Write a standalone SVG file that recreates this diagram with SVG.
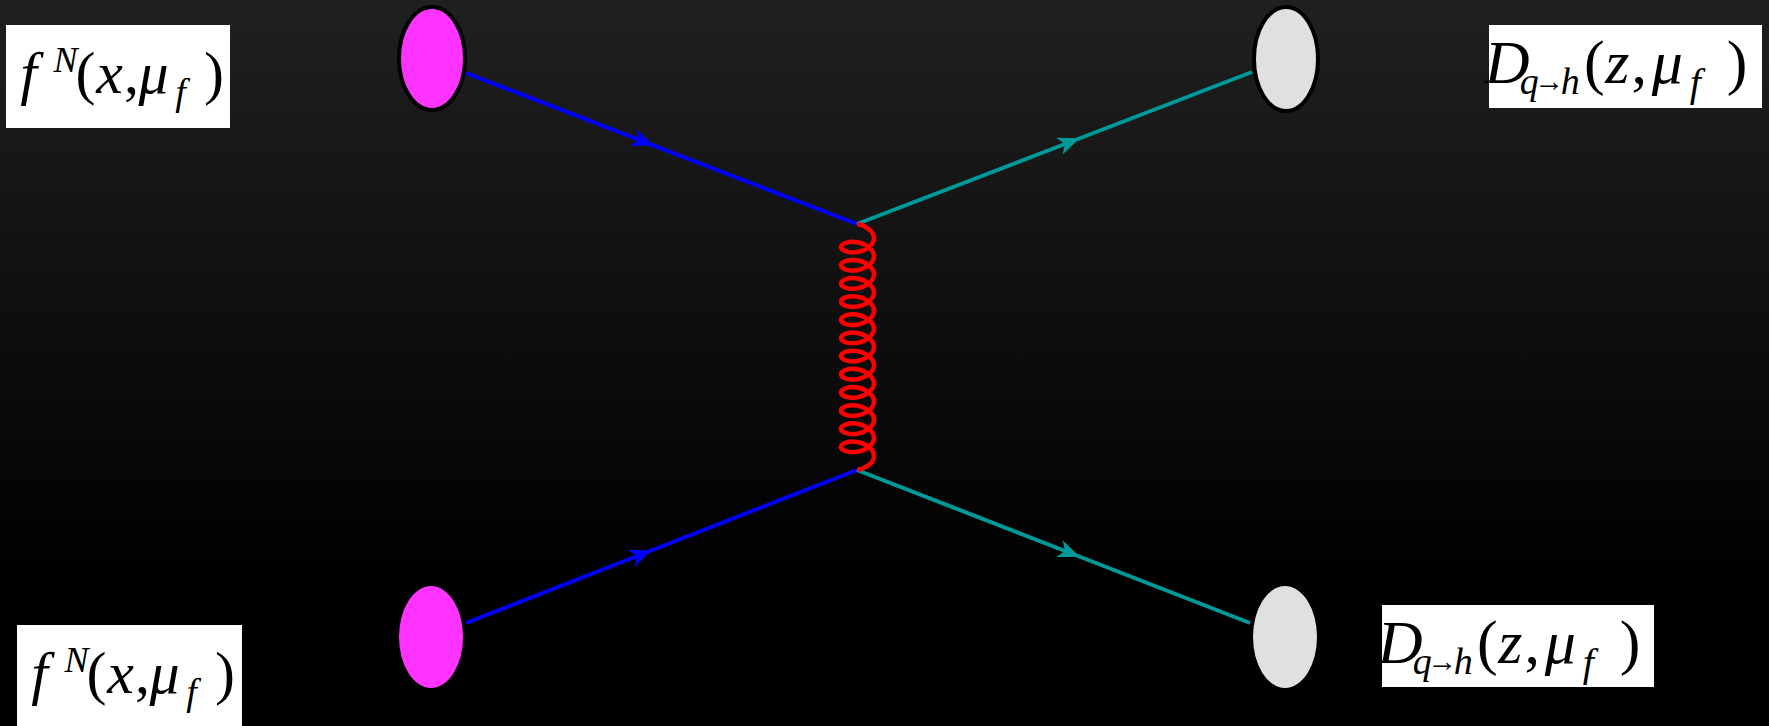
<svg xmlns="http://www.w3.org/2000/svg" width="1769" height="726" viewBox="0 0 1769 726">
  <defs>
    <linearGradient id="bg" x1="0" y1="0" x2="0" y2="1">
      <stop offset="0" stop-color="#202020"/>
      <stop offset="0.8" stop-color="#000000"/>
      <stop offset="1" stop-color="#000000"/>
    </linearGradient>
    <marker id="arrBlue" markerUnits="userSpaceOnUse" viewBox="-24 -12 28 24" markerWidth="28" markerHeight="24" refX="0" refY="0" orient="auto">
      <path d="M2 0 L-20 -9 L-14 0 L-20 9 Z" fill="#0000ff"/>
    </marker>
    <marker id="arrTeal" markerUnits="userSpaceOnUse" viewBox="-24 -12 28 24" markerWidth="28" markerHeight="24" refX="0" refY="0" orient="auto">
      <path d="M2 0 L-20 -9 L-14 0 L-20 9 Z" fill="#009999"/>
    </marker>
  </defs>
  <style>
    .quark { fill: none; stroke: #0000ff; stroke-width: 4; marker-mid: url(#arrBlue); }
    .hadron { fill: none; stroke: #009999; stroke-width: 4; marker-mid: url(#arrTeal); }
    .gluon { fill: none; stroke: #ff0000; stroke-width: 4.5; stroke-linejoin: round; }
    .pdf { fill: #ff33ff; }
    .ff { fill: #e0e0e0; }
    .outl { stroke: #000000; stroke-width: 4; }
    .box { fill: #ffffff; }
    .math { font-family: "Liberation Serif", "DejaVu Serif", serif; fill: #000000; text-anchor: middle; }
    .it { font-style: italic; }
  </style>
  <rect x="0" y="0" width="1769" height="726" fill="url(#bg)"/>

  <g id="connectors">
    <path class="quark" d="M 466 73 L 652 144.8 L 857 224"/>
    <path class="hadron" d="M 857 224 L 1078 139 L 1252 72"/>
    <path class="quark" d="M 466 623 L 650 551 L 857 470"/>
    <path class="hadron" d="M 857 470 L 1078 556 L 1250 623"/>
    <path class="gluon" d="M 857.5 224
      c 8.64 1.51 16.5 7.55 16.5 14.04 c 0 6.49 -7.86 12.53 -16.5 14.04 c -8.64 1.51 -16.5 -1.5 -16.5 -4.96 c 0 -3.46 7.86 -6.47 16.5 -4.96
      c 8.64 1.51 16.5 7.55 16.5 14.04 c 0 6.49 -7.86 12.53 -16.5 14.04 c -8.64 1.51 -16.5 -1.5 -16.5 -4.96 c 0 -3.46 7.86 -6.47 16.5 -4.96
      c 8.64 1.51 16.5 7.55 16.5 14.04 c 0 6.49 -7.86 12.53 -16.5 14.04 c -8.64 1.51 -16.5 -1.5 -16.5 -4.96 c 0 -3.46 7.86 -6.47 16.5 -4.96
      c 8.64 1.51 16.5 7.55 16.5 14.04 c 0 6.49 -7.86 12.53 -16.5 14.04 c -8.64 1.51 -16.5 -1.5 -16.5 -4.96 c 0 -3.46 7.86 -6.47 16.5 -4.96
      c 8.64 1.51 16.5 7.55 16.5 14.04 c 0 6.49 -7.86 12.53 -16.5 14.04 c -8.64 1.51 -16.5 -1.5 -16.5 -4.96 c 0 -3.46 7.86 -6.47 16.5 -4.96
      c 8.64 1.51 16.5 7.55 16.5 14.04 c 0 6.49 -7.86 12.53 -16.5 14.04 c -8.64 1.51 -16.5 -1.5 -16.5 -4.96 c 0 -3.46 7.86 -6.47 16.5 -4.96
      c 8.64 1.51 16.5 7.55 16.5 14.04 c 0 6.49 -7.86 12.53 -16.5 14.04 c -8.64 1.51 -16.5 -1.5 -16.5 -4.96 c 0 -3.46 7.86 -6.47 16.5 -4.96
      c 8.64 1.51 16.5 7.55 16.5 14.04 c 0 6.49 -7.86 12.53 -16.5 14.04 c -8.64 1.51 -16.5 -1.5 -16.5 -4.96 c 0 -3.46 7.86 -6.47 16.5 -4.96
      c 8.64 1.51 16.5 7.55 16.5 14.04 c 0 6.49 -7.86 12.53 -16.5 14.04 c -8.64 1.51 -16.5 -1.5 -16.5 -4.96 c 0 -3.46 7.86 -6.47 16.5 -4.96
      c 8.64 1.51 16.5 7.55 16.5 14.04 c 0 6.49 -7.86 12.53 -16.5 14.04 c -8.64 1.51 -16.5 -1.5 -16.5 -4.96 c 0 -3.46 7.86 -6.47 16.5 -4.96
      c 8.64 1.51 16.5 7.55 16.5 14.04 c 0 6.49 -7.86 12.53 -16.5 14.04 c -8.64 1.51 -16.5 -1.5 -16.5 -4.96 c 0 -3.46 7.86 -6.47 16.5 -4.96
      c 8.64 1.51 16.5 7.55 16.5 14.04 c 0 6.49 -7.86 12.53 -16.5 14.04 c -8.64 1.51 -16.5 -1.5 -16.5 -4.96 c 0 -3.46 7.86 -6.47 16.5 -4.96
      c 8.64 1.51 16.5 7.55 16.5 14.04 c 0 6.49 -7.86 12.53 -16.5 14.04"/>
  </g>

  <g id="blob-pdf-top"><ellipse class="pdf outl" cx="432" cy="58.5" rx="33" ry="51.5"/></g>
  <g id="blob-pdf-bottom"><ellipse class="pdf" cx="431" cy="637" rx="32" ry="51"/></g>
  <g id="blob-ff-top"><ellipse class="ff outl" cx="1286" cy="59" rx="32" ry="52"/></g>
  <g id="blob-ff-bottom"><ellipse class="ff" cx="1285" cy="637" rx="32" ry="51"/></g>

  <g id="label-pdf-top">
    <rect class="box" x="6" y="25" width="224" height="103"/>
    <text class="math" font-size="60">
      <tspan class="it" x="36" y="93">f</tspan>
      <tspan class="it" x="73" y="72" font-size="36">N</tspan>
      <tspan x="93" y="93">(</tspan>
      <tspan class="it" x="117" y="93">x</tspan>
      <tspan x="139" y="93">,</tspan>
      <tspan class="it" x="161" y="93">μ</tspan>
      <tspan class="it" x="188" y="105" font-size="38">f</tspan>
      <tspan x="214" y="93">)</tspan>
    </text>
  </g>
  <g id="label-pdf-bottom" transform="translate(11 600)">
    <rect class="box" x="6" y="25" width="225" height="103"/>
    <text class="math" font-size="60">
      <tspan class="it" x="36" y="93">f</tspan>
      <tspan class="it" x="73" y="72" font-size="36">N</tspan>
      <tspan x="93" y="93">(</tspan>
      <tspan class="it" x="117" y="93">x</tspan>
      <tspan x="139" y="93">,</tspan>
      <tspan class="it" x="161" y="93">μ</tspan>
      <tspan class="it" x="188" y="105" font-size="38">f</tspan>
      <tspan x="214" y="93">)</tspan>
    </text>
  </g>
  <g id="label-ff-top">
    <rect class="box" x="1489" y="25" width="273" height="83"/>
    <text class="math" font-size="62">
      <tspan class="it" x="1515" y="83">D</tspan>
      <tspan class="it" x="1537" y="94" font-size="38">q</tspan>
      <tspan x="1557" y="91" font-size="30">→</tspan>
      <tspan class="it" x="1578" y="94" font-size="38">h</tspan>
      <tspan x="1602" y="83">(</tspan>
      <tspan class="it" x="1625" y="83">z</tspan>
      <tspan x="1647" y="83">,</tspan>
      <tspan class="it" x="1675" y="83">μ</tspan>
      <tspan class="it" x="1703" y="96" font-size="40">f</tspan>
      <tspan x="1737" y="83">)</tspan>
    </text>
  </g>
  <g id="label-ff-bottom" transform="translate(-107 580)">
    <rect class="box" x="1489" y="25" width="272" height="82"/>
    <text class="math" font-size="62">
      <tspan class="it" x="1515" y="83">D</tspan>
      <tspan class="it" x="1537" y="94" font-size="38">q</tspan>
      <tspan x="1557" y="91" font-size="30">→</tspan>
      <tspan class="it" x="1578" y="94" font-size="38">h</tspan>
      <tspan x="1602" y="83">(</tspan>
      <tspan class="it" x="1625" y="83">z</tspan>
      <tspan x="1647" y="83">,</tspan>
      <tspan class="it" x="1675" y="83">μ</tspan>
      <tspan class="it" x="1703" y="96" font-size="40">f</tspan>
      <tspan x="1737" y="83">)</tspan>
    </text>
  </g>
</svg>
